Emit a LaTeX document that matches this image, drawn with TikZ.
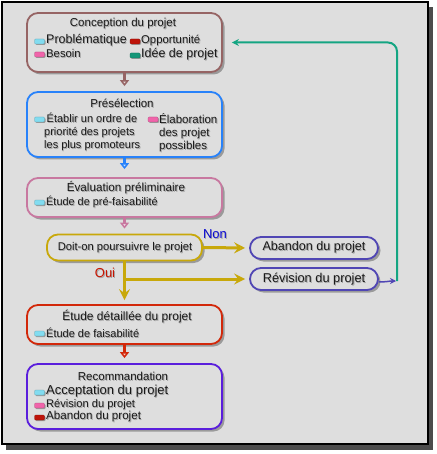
\documentclass[tikz,border=0pt]{standalone}
\usepackage{fontspec}
\setmainfont{Liberation Sans}
\usetikzlibrary{arrows.meta,shadows,calc}
\definecolor{bg}{RGB}{222,222,222}
\definecolor{cConc}{RGB}{150,100,100}
\definecolor{cPre}{RGB}{40,130,250}
\definecolor{cEval}{RGB}{200,120,160}
\definecolor{cDec}{RGB}{200,168,10}
\definecolor{cOut}{RGB}{80,70,180}
\definecolor{cEtu}{RGB}{210,40,10}
\definecolor{cRec}{RGB}{90,30,220}
\definecolor{cTeal}{RGB}{20,165,130}
\definecolor{bCyan}{RGB}{130,220,240}
\definecolor{bPink}{RGB}{240,100,170}
\definecolor{bRed}{RGB}{190,20,10}
\definecolor{bTeal}{RGB}{20,150,120}
\definecolor{cNon}{RGB}{10,10,210}
\definecolor{cOui}{RGB}{200,20,0}
\newcommand\setfs[1]{\fontsize{#1}{#1}\selectfont}
\newcommand\shd[1]{\rlap{\kern0.9pt\raisebox{-0.9pt}{\color{black!35}#1}}#1}
\begin{document}
\begin{tikzpicture}[x=1pt,y=-1pt,
  box/.style={draw=#1, line width=1.8pt, rounded corners=11pt, fill=bg,
    inner sep=0pt, drop shadow={shadow xshift=2.5pt, shadow yshift=-2.5pt, fill=black, opacity=0.3}},
  bul/.style={fill=#1, draw=#1!70!black, line width=0.3pt, minimum width=10pt, minimum height=5pt,
    inner sep=0pt, rounded corners=1pt, drop shadow={shadow xshift=1pt, shadow yshift=-1pt, fill=black, opacity=0.3}},
  txt/.style={inner sep=0pt, text=black!90},
  itm/.style={txt, anchor=west},
  linkarrow/.style={draw=#1, line width=2.5pt, shorten >=5pt,
    -{Triangle[width=9pt,length=6pt,fill=#1!25!white]}},
  decarrow/.style={draw=cDec, line width=3pt, shorten >=4pt,
    -{Stealth[width=11pt,length=11pt,inset=4pt,fill=cDec!30!white]}},
]
\useasboundingbox (0,0) rectangle (436,454);
% frame
\fill[black!70] (6,7) rectangle (433,450);
\draw[line width=1.5pt, fill=bg] (2,2) rectangle (428,444);

% boxes
\node[box=cConc, minimum width=195pt, minimum height=59pt] (conc) at (124.5,42.5) {};
\node[box=cPre,  minimum width=195pt, minimum height=65pt] (presel) at (124.5,124.5) {};
\node[box=cEval, minimum width=195pt, minimum height=39pt] (eval) at (124.5,197.5) {};
\node[box=cDec,  minimum width=155pt, minimum height=26pt] (dec) at (124.5,247.5) {};
\node[box=cOut,  minimum width=128pt, minimum height=22pt] (aband) at (314,248) {};
\node[box=cOut,  minimum width=128pt, minimum height=22pt] (rev) at (314,279) {};
\node[box=cEtu,  minimum width=195pt, minimum height=39pt] (etude) at (124.5,324.5) {};
\node[box=cRec,  minimum width=195pt, minimum height=65pt] (recom) at (124.5,396.5) {};

% Conception du projet
\node[txt, font=\setfs{11.5}] (conc-t) at (123,24) {\shd{Conception du projet}};
\node[bul=bCyan] (conc-b1) at (39.5,41.5) {};
\node[itm, font=\setfs{12.5}] (conc-i1) at (46,41) {\shd{Problématique}};
\node[bul=bRed] (conc-b2) at (135,41.5) {};
\node[itm, font=\setfs{11.3}] (conc-i2) at (141,41) {\shd{Opportunité}};
\node[bul=bPink] (conc-b3) at (39.5,54.5) {};
\node[itm, font=\setfs{11.3}] (conc-i3) at (46,54) {\shd{Besoin}};
\node[bul=bTeal] (conc-b4) at (135,55.5) {};
\node[itm, font=\setfs{12.5}] (conc-i4) at (141,55) {\shd{Idée de projet}};

% Présélection
\node[txt, font=\setfs{11.5}] (pre-t) at (122,104) {\shd{Présélection}};
\node[bul=bCyan] (pre-b1) at (39.5,119.5) {};
\node[txt, anchor=north west, align=left, font=\fontsize{11}{13}\selectfont] (pre-i1) at (44,113)
  {\hspace{2.5pt}\shd{Établir un ordre de}\\\shd{priorité des projets}\\\shd{les plus promoteurs}};
\node[bul=bPink] (pre-b2) at (153,119.5) {};
\node[txt, anchor=north west, align=left, font=\fontsize{11.5}{13}\selectfont] (pre-i2) at (159,113)
  {\shd{Élaboration}\\\shd{des projet}\\\shd{possibles}};

% Évaluation préliminaire
\node[txt, font=\setfs{11.7}] (eval-t) at (126,188) {\shd{Évaluation préliminaire}};
\node[bul=bCyan] (eval-b1) at (39.5,202.5) {};
\node[itm, font=\setfs{10.9}] (eval-i1) at (46,202) {\shd{Étude de pré-faisabilité}};

% Décision
\node[txt, font=\setfs{11.2}] (dec-t) at (125,248) {\shd{Doit-on poursuivre le projet}};
\node[txt, font=\setfs{12.6}] (aband-t) at (314,248) {\shd{Abandon du projet}};
\node[txt, font=\setfs{12.8}] (rev-t) at (314,280) {\shd{Révision du projet}};

% Étude détaillée
\node[txt, font=\setfs{12}] (etu-t) at (127,317) {\shd{Étude détaillée du projet}};
\node[bul=bCyan] (etu-b1) at (39.5,333.5) {};
\node[itm, font=\setfs{11}] (etu-i1) at (46,333) {\shd{Étude de faisabilité}};

% Recommandation
\node[txt, font=\setfs{11.5}] (rec-t) at (123,377) {\shd{Recommandation}};
\node[bul=bCyan] (rec-b1) at (39.5,392.5) {};
\node[itm, font=\setfs{13}] (rec-i1) at (46,392) {\shd{Acceptation du projet}};
\node[bul=bPink] (rec-b2) at (39.5,405.5) {};
\node[itm, font=\setfs{11.1}] (rec-i2) at (46,405) {\shd{Révision du projet}};
\node[bul=bRed] (rec-b3) at (39.5,417.5) {};
\node[itm, font=\setfs{11.6}] (rec-i3) at (46,417) {\shd{Abandon du projet}};

% links between stages
\draw[linkarrow=cConc] (conc.south) -- (presel.north);
\draw[linkarrow=cPre] (presel.south) -- ([yshift=3pt]eval.north);
\draw[linkarrow=cEval] (eval.south) -- (dec.north);
\draw[linkarrow=cEtu] (etude.south) -- (recom.north);

% decision arrows
\coordinate (branch) at (dec.south |- rev.west);
\draw[decarrow] (dec.east) -- (aband.west);
\draw[decarrow] (dec.south) -- (etude.north);
\draw[decarrow] (branch) -- (rev.west);
\node[txt, text=cNon, font=\setfs{13}] (non) at (215,235) {\shd{Non}};
\node[txt, text=cOui, font=\setfs{13}] (oui) at (105,273) {\shd{Oui}};

% feedback loop
\coordinate (fb) at (397,281);
\draw[draw=cOut, line width=1.5pt, shorten >=1pt, -{Stealth[width=6pt,length=6pt]}]
  ([yshift=-3pt]rev.east) to[out=0,in=180] (fb);
\draw[draw=cTeal, line width=2pt, rounded corners=9pt, shorten >=9pt,
  -{Stealth[width=7pt,length=7pt]}] (fb) |- (conc.east);
\end{tikzpicture}
\end{document}
